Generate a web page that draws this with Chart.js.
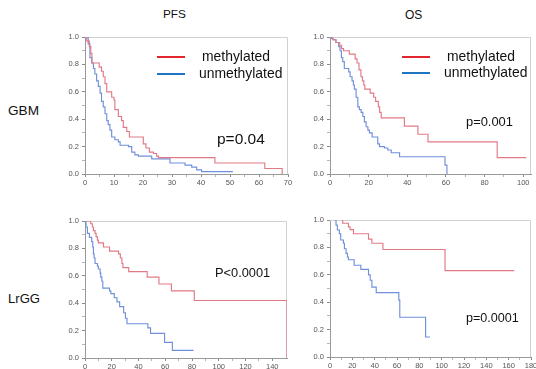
<!DOCTYPE html>
<html>
<head>
<meta charset="utf-8">
<script src="https://cdn.jsdelivr.net/npm/chart.js@4.4.0/dist/chart.umd.min.js"></script>
<style>
html,body{margin:0;padding:0;background:#fff;}
body{width:536px;height:369px;position:relative;overflow:hidden;font-family:"Liberation Sans",Arial,sans-serif;color:#111;}
canvas{position:absolute;}
.t{position:absolute;white-space:nowrap;line-height:1;}
.sw{position:absolute;height:2px;width:28px;}
</style>
</head>
<body>
<canvas id="p1"></canvas>
<canvas id="p2"></canvas>
<canvas id="p3"></canvas>
<canvas id="p4"></canvas>

<div class="t" style="left:163px;top:9px;font-size:11.8px">PFS</div>
<div class="t" style="left:405px;top:9px;font-size:12px">OS</div>
<div class="t" style="left:8px;top:104px;font-size:13.6px">GBM</div>
<div class="t" style="left:8px;top:292px;font-size:13.1px">LrGG</div>

<div class="sw" style="left:157px;top:56px;background:#e3262b"></div>
<div class="t" style="left:202px;top:50px;font-size:13.9px">methylated</div>
<div class="sw" style="left:157px;top:73px;background:#1f74c4"></div>
<div class="t" style="left:199px;top:67px;font-size:13.9px">unmethylated</div>

<div class="sw" style="left:402px;top:56px;background:#e3262b"></div>
<div class="t" style="left:447px;top:50px;font-size:13.9px">methylated</div>
<div class="sw" style="left:402px;top:72px;background:#1f74c4"></div>
<div class="t" style="left:444px;top:66px;font-size:13.9px">unmethylated</div>

<div class="t" style="left:217px;top:131px;font-size:15.5px">p=0.04</div>
<div class="t" style="left:466px;top:116px;font-size:12.9px">p=0.001</div>
<div class="t" style="left:215px;top:267px;font-size:12.8px">P&lt;0.0001</div>
<div class="t" style="left:466px;top:312px;font-size:12.6px">p=0.0001</div>

<script>
// ===== 数据 (Kaplan-Meier 读数) =====
const yTicks = [0, 0.2, 0.4, 0.6, 0.8, 1.0];

// GBM PFS
const gbmPfsXTicks = [0, 10, 20, 30, 40, 50, 60, 70];
const gbmPfsMethT = [0, 0.6, 1.5, 2, 2.4, 4.9, 5.7, 6.3, 6.9, 7.5, 9.2, 10, 10.3, 11.5, 12.6, 13.2, 14.4, 15.3, 20.1, 21, 22.2, 23.6, 24.7, 25.3, 44.8, 62, 68];
const gbmPfsMethS = [1, 0.97, 0.93, 0.88, 0.81, 0.78, 0.75, 0.71, 0.66, 0.60, 0.56, 0.54, 0.47, 0.42, 0.39, 0.34, 0.31, 0.27, 0.22, 0.19, 0.16, 0.15, 0.13, 0.12, 0.08, 0.04, 0];
const gbmPfsUnT = [0, 1.1, 1.7, 2.3, 2.9, 3.4, 4, 4.6, 5.2, 5.7, 6.3, 6.9, 7.5, 8, 8.6, 9.2, 10.3, 11.5, 12.1, 15, 16.1, 17.2, 18.4, 23, 29.3, 34.5, 36.8, 38.5, 40.2, 51];
const gbmPfsUnS = [1, 0.95, 0.85, 0.81, 0.77, 0.73, 0.68, 0.64, 0.59, 0.53, 0.49, 0.44, 0.39, 0.36, 0.32, 0.27, 0.25, 0.235, 0.21, 0.20, 0.16, 0.14, 0.13, 0.11, 0.08, 0.065, 0.05, 0.03, 0.017, 0.017];

// GBM OS
const gbmOsXTicks = [0, 20, 40, 60, 80, 100];
const gbmOsMethT = [0, 1.5, 3, 5, 6, 7, 10, 13, 14, 15, 16, 16.8, 17.5, 18, 20.8, 22.6, 23.6, 25, 25.7, 26.5, 38.5, 45.5, 50.7, 86.5, 101.5];
const gbmOsMethS = [1, 0.98, 0.96, 0.94, 0.915, 0.90, 0.875, 0.84, 0.81, 0.76, 0.71, 0.68, 0.65, 0.62, 0.59, 0.56, 0.53, 0.49, 0.45, 0.41, 0.35, 0.29, 0.235, 0.12, 0.12];
const gbmOsUnT = [0, 0.5, 1.4, 3.1, 4.5, 5.2, 5.9, 6.6, 7.4, 9.7, 10.4, 11.4, 12.1, 12.6, 13.5, 14.4, 15.2, 16.1, 17, 17.8, 18.7, 19.6, 20.4, 21.8, 24.7, 25.6, 28.2, 29.9, 31.7, 36, 59.5, 60.5];
const gbmOsUnS = [1, 0.99, 0.98, 0.96, 0.93, 0.90, 0.85, 0.82, 0.77, 0.745, 0.71, 0.68, 0.65, 0.62, 0.56, 0.49, 0.47, 0.45, 0.42, 0.38, 0.345, 0.32, 0.30, 0.27, 0.22, 0.20, 0.19, 0.175, 0.155, 0.126, 0.065, 0];

// LrGG PFS
const lrgPfsXTicks = [0, 20, 40, 60, 80, 100, 120, 140];
const lrgPfsMethT = [0, 4.3, 5.5, 6.3, 7.5, 8.3, 9.3, 10, 13.8, 18.3, 25.1, 26.4, 27.6, 28.4, 32.7, 46.5, 55.3, 64.6, 81.7, 151];
const lrgPfsMethS = [1, 0.98, 0.956, 0.93, 0.91, 0.884, 0.86, 0.84, 0.81, 0.78, 0.76, 0.73, 0.69, 0.66, 0.63, 0.59, 0.54, 0.49, 0.42, 0];
const lrgPfsUnT = [0, 0.75, 1.8, 3.3, 5, 5.8, 6.3, 6.8, 7.5, 9.3, 10, 11.3, 11.8, 12.6, 13.3, 18.3, 19.3, 21.9, 23.9, 25.9, 28.9, 30.2, 31.4, 47, 49, 59.5, 65.3, 81.2];
const lrgPfsUnS = [1, 0.956, 0.91, 0.88, 0.85, 0.81, 0.76, 0.73, 0.69, 0.67, 0.65, 0.62, 0.59, 0.56, 0.51, 0.49, 0.47, 0.44, 0.41, 0.375, 0.33, 0.29, 0.25, 0.22, 0.18, 0.114, 0.056, 0.056];

// LrGG OS
const lrgOsXTicks = [0, 20, 40, 60, 80, 100, 120, 140, 160, 180];
const lrgOsMethT = [10.5, 11.4, 16.5, 18, 21, 34.5, 37.5, 47.4, 103, 165];
const lrgOsMethS = [1, 0.976, 0.95, 0.93, 0.90, 0.86, 0.83, 0.785, 0.63, 0.63];
const lrgOsUnT = [4.5, 5.4, 6.6, 8.4, 9.6, 12, 12.9, 14.4, 15.6, 16.5, 21.6, 27.6, 34.5, 36, 37.5, 41.4, 61.6, 62.5, 85.6, 89.5];
const lrgOsUnS = [1, 0.963, 0.927, 0.90, 0.854, 0.83, 0.79, 0.756, 0.73, 0.71, 0.67, 0.64, 0.60, 0.56, 0.51, 0.47, 0.415, 0.29, 0.146, 0.146];

// ===== 样式 =====
const RED = "rgb(226,122,134)";
const BLUE = "rgb(112,144,220)";
const TICK_FONT = {family: "Liberation Sans", size: 7.5};

// 主刻度 + 中间的小刻度
function withMinor(majors){
  const out = [];
  majors.forEach((v,i)=>{
    out.push({value:v, lab:true});
    if(i < majors.length-1) out.push({value:(v+majors[i+1])/2, lab:false});
  });
  return out;
}
function pts(t, s){ return t.map((x,i)=>({x, y:s[i]})); }

// 上/右边框
const framePlugin = {
  id: "frame",
  beforeDatasetsDraw(chart){
    const a = chart.chartArea, c = chart.ctx;
    c.save();
    c.strokeStyle = "#d0d0d0"; c.lineWidth = 1;
    c.beginPath();
    c.moveTo(a.left, a.top + 0.5); c.lineTo(a.right - 0.5, a.top + 0.5); c.lineTo(a.right - 0.5, a.bottom);
    c.stroke();
    c.restore();
  }
};

function panel(id, area, xMax, xTicks, meth, unmeth){
  const cv = document.getElementById(id);
  const W = area[2]-area[0] + 40, H = area[3]-area[1] + 25;
  cv.width = W; cv.height = H;
  cv.style.left = (area[0]-30)+"px"; cv.style.top = (area[1]-9)+"px";
  cv.style.width = W+"px"; cv.style.height = H+"px";

  const tickColor = ctx => (ctx.tick && ctx.tick.lab) ? "#8a8a8a" : "#b5b5b5";

  new Chart(cv.getContext("2d"), {
    type: "line",
    data: {datasets: [
      {label:"methylated", data:meth, borderColor:RED},
      {label:"unmethylated", data:unmeth, borderColor:BLUE}
    ]},
    options: {
      responsive:false, animation:false,
      layout:{padding:{left:8, top:9, right:10, bottom:2}},
      elements:{line:{stepped:true, borderWidth:1.15, tension:0, fill:false}, point:{radius:0}},
      plugins:{legend:{display:false}, tooltip:{enabled:false}},
      scales:{
        x:{
          type:"linear", min:0, max:xMax,
          afterFit: s => { s.height = 14; },
          afterBuildTicks: s => { s.ticks = withMinor(xTicks); },
          ticks:{autoSkip:false, maxRotation:0, padding:1, color:"#555", font:TICK_FONT,
            callback:(v,i,tk)=> tk[i].lab ? String(v) : ""},
          grid:{drawOnChartArea:false, tickLength:3, tickColor},
          border:{color:"#9a9a9a"}
        },
        y:{
          min:0, max:1,
          afterFit: s => { s.width = 22; },
          afterBuildTicks: s => { s.ticks = withMinor(yTicks); },
          ticks:{autoSkip:false, padding:3, color:"#555", font:TICK_FONT,
            callback:(v,i,tk)=> tk[i].lab ? v.toFixed(1) : ""},
          grid:{drawOnChartArea:false, tickLength:3, tickColor},
          border:{color:"#9a9a9a"}
        }
      }
    },
    plugins:[framePlugin]
  });
}

panel("p1", [85, 37, 288, 174], 70, gbmPfsXTicks, pts(gbmPfsMethT, gbmPfsMethS), pts(gbmPfsUnT, gbmPfsUnS));
panel("p2", [330, 37, 531, 174], 104, gbmOsXTicks, pts(gbmOsMethT, gbmOsMethS), pts(gbmOsUnT, gbmOsUnS));
panel("p3", [85, 221, 287, 358], 151, lrgPfsXTicks, pts(lrgPfsMethT, lrgPfsMethS), pts(lrgPfsUnT, lrgPfsUnS));
panel("p4", [330, 220, 531, 357], 180, lrgOsXTicks, pts(lrgOsMethT, lrgOsMethS), pts(lrgOsUnT, lrgOsUnS));
</script>
</body>
</html>
